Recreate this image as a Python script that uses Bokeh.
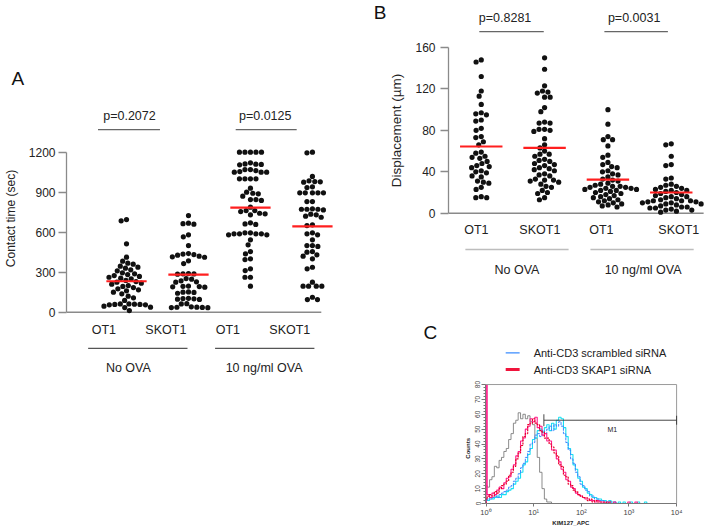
import numpy as np
from bokeh.plotting import figure
from bokeh.models import (Range1d, FixedTicker, LinearAxis, SingleIntervalTicker,
                          CustomJSTickFormatter, Spacer)
from bokeh.layouts import row, column
from bokeh.embed import file_html
from bokeh.resources import INLINE
from bokeh.core.properties import value

FONT = "Liberation Sans"

# ---------------- data ----------------
CATEGORIES = ["OT1", "SKOT1", "OT1", "SKOT1"]
GROUPS = ["No OVA", "10 ng/ml OVA"]

# Panel A: contact time (sec)
A_OT1_NOOVA = [695, 685, 513, 413, 383, 368, 360, 345, 338, 330, 318, 310, 295, 288, 282, 275,
               268, 262, 255, 250, 238, 230, 225, 218, 210, 200, 193, 185, 175, 168, 160, 150,
               138, 120, 108, 88, 62, 62, 60, 58, 58, 55, 55, 45, 38, 35, 12]
A_SKOT1_NOOVA = [725, 668, 664, 660, 580, 565, 500, 440, 436, 432, 428, 420, 415, 412, 385, 365,
                 290, 288, 287, 285, 252, 248, 235, 228, 225, 196, 194, 192, 190, 188, 152, 150,
                 148, 142, 104, 102, 100, 98, 96, 64, 62, 40, 38, 37, 36, 35, 34]
A_OT1_OVA = [1200, 1200, 1200, 1200, 1200, 1120, 1110, 1105, 1108, 1112, 1070, 1062, 1050, 1055,
             1050, 1050, 1070, 1000, 1000, 1000, 1000, 930, 900, 870, 892, 888, 838, 845, 845,
             788, 762, 738, 730, 742, 755, 762, 662, 658, 670, 595, 588, 588, 580, 580, 588, 588,
             595, 543, 505, 455, 437, 395, 400, 312, 325, 262, 262, 195]
A_SKOT1_OVA = [1200, 1195, 1018, 985, 980, 978, 975, 940, 935, 895, 895, 895, 895, 895, 830, 830,
               772, 772, 767, 775, 772, 730, 712, 720, 735, 655, 650, 595, 580, 588, 543, 500,
               493, 500, 450, 430, 455, 420, 400, 325, 337, 195, 195, 195, 195, 225, 112, 95, 95]
A_MEANS = [232, 282, 785, 643]
A_PVALUES = ["p=0.2072", "p=0.0125"]
A_YTICKS = [0, 300, 600, 900, 1200]
A_YLABEL = "Contact time (sec)"

# Panel B: displacement (um)
B_OT1_NOOVA = [148, 146, 132, 118, 113, 105, 97, 96, 95, 90, 89, 82, 80, 74, 73, 69, 66, 59, 58,
               55, 54, 53, 50, 48, 46, 45, 44, 41, 40, 39, 36, 35, 31, 30, 29, 25, 23, 16, 15, 15]
B_SKOT1_NOOVA = [150, 139, 123, 118, 117, 116, 112, 112, 102, 98, 88, 87, 87, 81, 81, 80, 79, 72,
                 66, 63, 60, 57, 57, 55, 52, 51, 50, 48, 47, 46, 44, 43, 42, 41, 38, 37, 36, 33,
                 32, 32, 31, 30, 28, 26, 25, 22, 20, 19, 15, 13]
B_OT1_OVA = [100, 86, 74, 71, 71, 65, 56, 54, 49, 47, 45, 44, 41, 40, 38, 37, 35, 33, 32, 31, 29,
             28, 27, 26, 26, 25, 25, 24, 24, 23, 23, 22, 22, 21, 20, 19, 18, 17, 16, 15, 14, 13,
             12, 11, 10, 9, 8, 7, 6]
B_SKOT1_OVA = [67, 66, 55, 47, 46, 34, 33, 28, 27, 26, 25, 24, 23, 22, 22, 21, 20, 19, 18, 17,
               16, 16, 15, 14, 13, 12, 12, 12, 11, 11, 10, 10, 9, 9, 8, 7, 6, 6, 5, 5, 4, 3, 3,
               2, 1]
B_MEANS = [64.4, 63.1, 32.5, 20.0]
B_PVALUES = ["p=0.8281", "p=0.0031"]
B_YTICKS = [0, 40, 80, 120, 160]
B_YLABEL = "Displacement (\u00b5m)"

# Panel C: flow cytometry histograms (log10 channel, counts)
C_LOG_CHANNEL = [0.00, 0.05, 0.10, 0.15, 0.20, 0.25, 0.30, 0.35, 0.40, 0.45,
                 0.50, 0.55, 0.60, 0.65, 0.70, 0.75, 0.80, 0.85, 0.90, 0.95,
                 1.00, 1.05, 1.10, 1.15, 1.20, 1.25, 1.30, 1.35, 1.40, 1.45,
                 1.50, 1.55, 1.60, 1.65, 1.70, 1.75, 1.80, 1.85, 1.90, 1.95,
                 2.00, 2.05, 2.10, 2.15, 2.20, 2.25, 2.30, 2.35, 2.40, 2.45,
                 2.50, 2.55, 2.60, 2.65, 2.70, 2.75, 2.80, 2.85, 2.90, 2.95,
                 3.00, 3.05, 3.10, 3.15, 3.20, 3.25, 3.30, 3.35, 3.40, 3.45,
                 3.50, 3.55, 3.60, 3.65, 3.70, 3.75, 3.80, 3.85, 3.90, 3.95,
                 4.00]
C_ISOTYPE = [12, 11, 16, 18, 25, 24, 29, 31, 35, 37,
             43, 47, 54, 56, 61, 57, 60, 57, 59, 55,
             53, 44, 31, 21, 10, 3, 1, 1, 0, 0,
             0, 0, 0, 0, 0, 0, 0, 0, 0, 0,
             0, 0, 0, 0, 0, 0, 0, 0, 0, 0,
             0, 0, 0, 0, 0, 0, 0, 0, 0, 0,
             0, 0, 0, 0, 0, 0, 0, 0, 0, 0,
             0, 0, 0, 0, 0, 0, 0, 0, 0, 0,
             0]
C_SCR_1 = [3, 2, 4, 3, 4, 5, 4, 6, 6, 8,
           9, 10, 13, 15, 17, 21, 26, 28, 33, 37,
           43, 44, 49, 50, 48, 51, 53, 49, 54, 50,
           56, 58, 57, 51, 45, 37, 33, 26, 23, 17,
           15, 11, 10, 7, 6, 4, 4, 3, 3, 2,
           2, 1, 2, 1, 1, 0, 1, 0, 1, 0,
           0, 1, 0, 0, 1, 0, 0, 1, 0, 0,
           0, 0, 0, 0, 0, 0, 0, 0, 0, 0,
           0]
C_SCR_2 = [2, 3, 3, 4, 5, 4, 6, 7, 8, 9,
           11, 12, 15, 17, 20, 24, 27, 31, 35, 40,
           41, 46, 47, 45, 49, 47, 50, 52, 49, 53,
           52, 55, 52, 47, 41, 36, 30, 27, 21, 18,
           13, 12, 9, 8, 5, 5, 3, 3, 2, 2,
           1, 1, 1, 0, 1, 0, 0, 0, 0, 0,
           0, 0, 0, 0, 0, 0, 0, 0, 0, 0,
           0, 0, 0, 0, 0, 0, 0, 0, 0, 0,
           0]
C_SKAP_1 = [80, 6, 4, 7, 6, 9, 11, 10, 14, 17,
            18, 23, 26, 32, 35, 42, 44, 50, 52, 57,
            55, 58, 51, 52, 46, 47, 42, 42, 36, 36,
            30, 28, 23, 21, 16, 15, 11, 10, 7, 6,
            5, 4, 3, 3, 2, 2, 1, 2, 1, 1,
            0, 1, 0, 0, 1, 0, 0, 0, 0, 0,
            1, 0, 0, 1, 0, 0, 0, 0, 0, 0,
            0, 0, 0, 0, 0, 0, 0, 0, 0, 0,
            0]
C_SKAP_2 = [3, 5, 6, 5, 8, 7, 10, 12, 13, 15,
            19, 21, 25, 30, 34, 39, 45, 47, 53, 54,
            57, 54, 53, 49, 48, 44, 44, 40, 38, 34,
            32, 26, 25, 19, 18, 13, 12, 9, 8, 6,
            5, 4, 4, 2, 3, 1, 2, 1, 1, 0,
            1, 0, 1, 0, 0, 0, 0, 0, 0, 0,
            0, 0, 0, 0, 0, 0, 0, 0, 0, 0,
            0, 0, 0, 0, 0, 0, 0, 0, 0, 0,
            0]
C_LEGEND = ["Anti-CD3 scrambled siRNA", "Anti-CD3 SKAP1 siRNA"]
C_XTICKS = [1, 10, 100, 1000, 10000]
C_XLABELS = ["10\u2070", "10\u00b9", "10\u00b2", "10\u00b3", "10\u2074"]
C_XLABEL = "KIM127_APC"
C_YLABEL = "Counts"
C_M1_RANGE = [16.4, 10000]
C_M1_LEVEL = 56


# ---------------- helpers ----------------
def swarm(vals, xpx, ypx, d):
    """Beeswarm offsets (in x data units) so dots of diameter d px do not overlap."""
    vals = np.asarray(vals, float)
    ys = vals * ypx
    order = np.argsort(-vals, kind="stable")
    px_list, py_list = [], []
    offs = np.zeros(len(vals))
    for i in order:
        y = ys[i]
        cands = [0.0]
        for qx, qy in zip(px_list, py_list):
            dy = y - qy
            if abs(dy) < d:
                dx = np.sqrt(d * d - dy * dy)
                cands += [qx + dx, qx - dx]
        cands.sort(key=lambda c: (abs(c), c))
        chosen = 0.0
        for c in cands:
            if all((c - qx) ** 2 + (y - qy) ** 2 >= d * d - 1e-6 for qx, qy in zip(px_list, py_list)):
                chosen = c
                break
        px_list.append(chosen)
        py_list.append(y)
        offs[i] = chosen / xpx
    return offs


def text_kw(size, color="#222222", align="center", baseline="middle"):
    return dict(text_font=value(FONT), text_font_size=value(size), text_color=color,
                text_align=align, text_baseline=baseline)


def style_title(p, offset, standoff):
    p.title.text_font = FONT
    p.title.text_font_size = "19px"
    p.title.text_font_style = "normal"
    p.title.text_color = "#111111"
    p.title.align = "left"
    p.title.offset = offset
    p.title.standoff = standoff


def text_axis(p, side, tick, text, size, standoff, orientation="horizontal", style="normal",
              color="#222222", range_name=None):
    """A line-less axis whose single tick label carries a piece of text (axis title / letter)."""
    kw = dict(ticker=FixedTicker(ticks=[tick]),
              formatter=CustomJSTickFormatter(args=dict(label=text), code="return label"))
    if range_name is not None:
        kw["y_range_name"] = range_name
    ax = LinearAxis(**kw)
    ax.axis_line_color = None
    ax.major_tick_line_color = None
    ax.minor_tick_line_color = None
    ax.major_tick_in = 0
    ax.major_tick_out = 0
    ax.major_label_standoff = standoff
    ax.major_label_text_font = FONT
    ax.major_label_text_font_size = size
    ax.major_label_text_font_style = style
    ax.major_label_text_color = color
    ax.major_label_orientation = orientation
    p.add_layout(ax, side)
    return ax


def scatter_panel(cols, means, pvals, yticks, g):
    p = figure(width=g["w"], height=g["h"], x_range=Range1d(*g["xr"]), y_range=Range1d(*g["yr"]),
               x_axis_type=None, y_axis_type=None, output_backend="svg", toolbar_location=None,
               title=g.get("title"), min_border_left=g["ml"], min_border_right=0,
               min_border_top=g["mt"], min_border_bottom=0, outline_line_color=None)
    yax = LinearAxis(ticker=FixedTicker(ticks=yticks), bounds=(yticks[0], yticks[-1]))
    yax.axis_line_color = "#8a8a8a"
    yax.axis_line_width = 1.3
    yax.major_tick_line_color = "#8a8a8a"
    yax.major_tick_line_width = 1.3
    yax.major_tick_in = 0
    yax.major_tick_out = 8
    yax.minor_tick_line_color = None
    yax.major_label_standoff = g["lstand"]
    yax.major_label_text_font = FONT
    yax.major_label_text_font_size = g["tickfs"]
    yax.major_label_text_color = "#222222"
    p.add_layout(yax, "left")

    xr, yr = g["xr"], g["yr"]
    xpx = (g["w"] - g["ml"]) / (xr[1] - xr[0])
    ypx = (g["h"] - g["mt"]) / (yr[1] - yr[0])
    pos = [1, 2, 3, 4]

    # x baseline
    p.segment(x0=[xr[0]], x1=[g["axis_end"]], y0=[0], y1=[0], line_color="#8a8a8a", line_width=1.5)

    xs, ys = [], []
    for k, vals in enumerate(cols):
        off = swarm(vals, xpx, ypx, g["d"])
        xs += list(pos[k] + off)
        ys += list(vals)
    p.scatter(xs, ys, size=g["dot"], color="#111111", line_width=0)

    mw = g["mw"]
    p.segment(x0=[q - mw for q in pos], x1=[q + mw for q in pos], y0=means, y1=means,
              line_color="#ff1f1f", line_width=2.2)

    # p-value brackets
    p.segment(x0=g["br_x0"], x1=g["br_x1"], y0=[g["br_y"]] * 2, y1=[g["br_y"]] * 2,
              line_color="#666666", line_width=1.3)
    p.text(x=g["pt_x"], y=[g["pt_y"]] * 2, text=pvals, **text_kw("12.5px"))

    # category labels
    p.text(x=g["cat_x"], y=[g["cat_y"]] * 4, text=CATEGORIES, **text_kw("12.5px"))
    # group lines & labels
    p.segment(x0=g["grp_x0"], x1=g["grp_x1"], y0=[g["grp_y"]] * 2, y1=[g["grp_y"]] * 2,
              line_color=g["grp_color"], line_width=1.3)
    p.text(x=g["gl_x"], y=[g["gl_y"]] * 2, text=GROUPS, **text_kw("12.5px"))
    p.grid.visible = False
    return p


GEOM_A = dict(w=370, h=528, ml=61, mt=90, title="A",
              xr=(0.0317, 4.937), yr=(-1622.25, 1662.75),
              lstand=3, tickfs="12px",
              axis_end=4.143, d=5.6, dot=5.2, mw=0.325,
              br_x0=[0.54, 2.762], br_x1=[1.54, 3.746], br_y=1370,
              pt_x=[1.048, 3.238], pt_y=1475,
              cat_x=[0.635, 1.635, 2.635, 3.635], cat_y=-137,
              grp_x0=[0.381, 2.429], grp_x1=[1.984, 4.032], grp_y=-272, grp_color="#555555",
              gl_x=[1.03, 3.22], gl_y=-415)

GEOM_B = dict(w=352, h=278, ml=76, mt=0,
              xr=(0.4828, 4.809), yr=(-63.05, 205.38),
              lstand=5, tickfs="12px",
              axis_end=4.511, d=5.6, dot=5.2, mw=0.335,
              br_x0=[0.969, 2.944], br_x1=[1.987, 3.947], br_y=175.4,
              pt_x=[1.376, 3.414], pt_y=188.0,
              cat_x=[0.922, 1.925, 2.897, 4.119], cat_y=-16.7,
              grp_x0=[0.749, 2.724], grp_x1=[2.379, 4.354], grp_y=-35.05, grp_color="#bdbdbd",
              gl_x=[1.564, 3.555], gl_y=-55.3)

# ---- panel A ----
figA = scatter_panel([A_OT1_NOOVA, A_SKOT1_NOOVA, A_OT1_OVA, A_SKOT1_OVA], A_MEANS, A_PVALUES,
                     A_YTICKS, GEOM_A)
style_title(figA, -55, 3)
text_axis(figA, "left", 702.75, A_YLABEL, "12px", 8, orientation="vertical")

# ---- panel B ----
figB = scatter_panel([B_OT1_NOOVA, B_SKOT1_NOOVA, B_OT1_OVA, B_SKOT1_OVA], B_MEANS, B_PVALUES,
                     B_YTICKS, GEOM_B)
text_axis(figB, "left", 79.86, B_YLABEL, "13.5px", 8, orientation="vertical")
# pixel-like helper range for the panel letter (1 unit = 1 px, top of frame = 18)
figB.extra_y_ranges = {"letter": Range1d(-260, 18)}
text_axis(figB, "left", 9, "B", "19px", 0, color="#111111", range_name="letter")

# ---------------- panel C ----------------
figC = figure(width=313, height=250, x_axis_type="log", x_range=Range1d(0.976, 91900),
              y_range=Range1d(0, 107.6), output_backend="svg", toolbar_location=None, title="C",
              min_border_left=76, min_border_right=0, min_border_top=65, min_border_bottom=19,
              outline_line_color=None)
style_title(figC, -62, 1)
figC.grid.visible = False
xax = figC.xaxis[0]
xax.ticker = FixedTicker(ticks=C_XTICKS)
xax.major_label_overrides = dict(zip(C_XTICKS, C_XLABELS))
xax.bounds = (C_XTICKS[0], C_XTICKS[-1])
xax.major_label_text_font = FONT
xax.major_label_text_font_size = "7.5px"
xax.major_label_standoff = 1
xax.major_tick_in = 0
xax.major_tick_out = 3
xax.axis_line_color = "#777777"
xax.major_tick_line_color = "#777777"
text_axis(figC, "below", 60.3, C_XLABEL, "6px", 0, style="bold")

yaxC = figC.yaxis[0]
yaxC.ticker = SingleIntervalTicker(interval=10, num_minor_ticks=5)
yaxC.bounds = (0, 80)
yaxC.major_label_text_font = FONT
yaxC.major_label_text_font_size = "6.5px"
yaxC.major_label_orientation = "vertical"
yaxC.major_label_standoff = 1
yaxC.major_tick_in = 0
yaxC.major_tick_out = 4
yaxC.minor_tick_in = 0
yaxC.minor_tick_out = 2
yaxC.axis_line_color = "#777777"
yaxC.major_tick_line_color = "#777777"
yaxC.minor_tick_line_color = "#777777"
text_axis(figC, "left", 37.1, C_YLABEL, "6px", 1, orientation="vertical", style="bold")

chan = [1.0] + list(10 ** np.array(C_LOG_CHANNEL))
curves = [
    (C_ISOTYPE, "#6e6e6e", 0.8, "solid"),
    (C_SCR_1, "#18e0f2", 1.1, "solid"),
    (C_SCR_2, "#3a86ff", 1.0, "3 1"),
    (C_SKAP_1, "#ff1a8a", 1.1, "solid"),
    (C_SKAP_2, "#e8002a", 1.2, "2 1"),
]
for vals, col, lw, dash in curves:
    figC.step(chan, [0] + list(vals), mode="center", line_color=col, line_width=lw, line_dash=dash)

# histogram box (top and right edges)
figC.segment(x0=[C_XTICKS[0], C_XTICKS[-1]], x1=[C_XTICKS[-1], C_XTICKS[-1]],
             y0=[80, 0], y1=[80, 80], line_color="#9a9a9a", line_width=1)

# M1 gate
figC.segment(x0=[C_M1_RANGE[0], C_M1_RANGE[0], C_M1_RANGE[1]],
             x1=[C_M1_RANGE[1], C_M1_RANGE[0], C_M1_RANGE[1]],
             y0=[C_M1_LEVEL, C_M1_LEVEL - 4, C_M1_LEVEL - 3],
             y1=[C_M1_LEVEL, C_M1_LEVEL + 4, C_M1_LEVEL + 3],
             line_color="#333333", line_width=0.9)
figC.text(x=[447], y=[C_M1_LEVEL - 6], text=["M1"], **text_kw("7px", "#222222"))

# legend
figC.segment(x0=[2.59], x1=[5.08], y0=[101.3], y1=[101.3], line_color="#3a8cff", line_width=1.3)
figC.segment(x0=[2.59], x1=[5.08], y0=[90.1], y1=[90.1], line_color="#f0143c", line_width=3)
figC.text(x=[10.0, 10.0], y=[101.3, 90.1], text=C_LEGEND, **text_kw("11px", "#222222", "left"))

layout = row(figA, column(figB, row(Spacer(width=39, height=250), figC)))
open("out.html", "w").write(file_html(layout, INLINE))
